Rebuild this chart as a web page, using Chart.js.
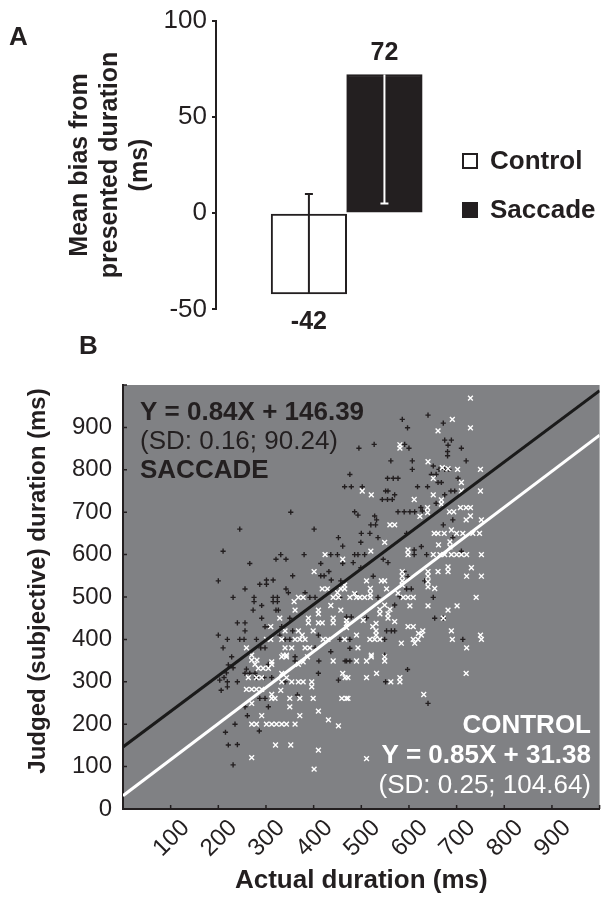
<!DOCTYPE html>
<html>
<head>
<meta charset="utf-8">
<script src="https://cdn.jsdelivr.net/npm/chart.js@4.4.1/dist/chart.umd.min.js"></script>
<style>
  html, body { margin: 0; padding: 0; background: #fff; }
  canvas { display: block; }
</style>
</head>
<body>
<canvas id="biasChart" width="605" height="330"></canvas>
<canvas id="scatterChart" width="605" height="575"></canvas>
<script>
// Panel A: mean bias from presented duration
const groups = ['Control', 'Saccade'];
const meanBias = [-42, 72];
const biasSE = [52, 67];
const biasTicks = [-50, 0, 50, 100];
const biasTickLabels = ['-50', '0', '50', '100'];

// Panel B: regression fits (saccade, control)
const fitSlopes = [0.84, 0.85];
const fitIntercepts = [146.39, 31.38];
const fitSD = [[0.16, 90.24], [0.25, 104.64]];
const durationTicks = [0, 100, 200, 300, 400, 500, 600, 700, 800, 900, 1000];
const xTickLabels = ['', '100', '200', '300', '400', '500', '600', '700', '800', '900', ''];
const yTickLabels = ['0', '100', '200', '300', '400', '500', '600', '700', '800', '900', ''];

// [actual, judged] in ms
const saccadePoints = [
  [640,929],[586,919],[597,899],[672,910],[675,870],[689,870],[682,858],[681,843],[681,833],[710,851],
  [527,860],[495,851],[591,860],[600,851],[562,821],[607,821],[607,801],[651,809],[663,801],[675,801],
  [684,801],[720,821],[476,789],[555,780],[567,780],[577,780],[647,789],[657,789],[661,770],[668,770],
  [703,780],[465,760],[479,760],[502,760],[551,750],[556,750],[544,730],[555,730],[565,730],[570,741],
  [618,760],[639,760],[688,750],[696,750],[675,741],[657,721],[625,711],[577,701],[590,701],[602,701],
  [612,701],[486,701],[493,693],[528,691],[532,682],[628,703],[692,682],[352,700],
  [245,660],[401,660],[210,608],[452,640],[461,620],[436,600],[450,600],[331,600],[321,589],[342,589],
  [380,600],[266,579],[461,579],[415,579],[432,560],[415,550],[422,550],[437,540],[356,550],[200,538],
  [301,540],[315,540],[287,530],[301,530],[256,519],[457,538],[342,519],[347,510],[382,510],[231,499],
  [275,499],[275,489],[315,499],[324,499],[315,489],[324,489],[392,499],[403,499],[455,499],[291,480],
  [273,469],[321,469],[326,469],[240,439],[256,439],[291,450],[350,450],[256,420],[298,430],[306,430],
  [333,430],[356,420],[200,410],[219,400],[245,400],[254,400],[280,400],[329,410],[340,400],[350,400],
  [410,410],[455,400],[210,380],[289,380],[298,380],[403,380],[436,371],
  [520,670],[530,670],[500,650],[518,650],[535,640],[499,629],[595,650],[672,670],[692,640],[626,619],
  [710,608],[611,611],[611,600],[637,600],[486,600],[493,600],[507,600],[546,589],[556,581],[483,581],
  [499,569],[590,560],[598,548],[525,549],[633,538],[595,519],[605,519],[581,501],[535,499],[490,505],
  [651,499],[570,481],[469,453],[479,453],[511,451],[553,420],[563,420],[570,420],[654,450],[672,450],
  [713,400],[476,400],[549,400],[476,379],[549,363],
  [228,359],[221,340],[231,333],[217,321],[212,310],[203,304],[219,300],[219,288],[240,300],[206,280],
  [259,330],[266,320],[277,320],[256,320],[305,341],[361,359],[361,349],[411,349],[466,349],[280,310],
  [296,310],[312,310],[340,300],[452,304],[410,320],[287,261],[298,261],[366,269],[305,241],[256,241],
  [261,220],[235,200],[286,184],[215,181],[221,151],[240,152],[231,104],
  [469,349],[476,349],[597,329],[551,300],[640,249]
];
const controlPoints = [
  [729,969],[729,899],[691,919],[661,892],[581,859],[581,851],[640,819],[670,805],[682,803],[702,801],
  [750,801],[651,780],[710,770],[502,750],[521,741],[651,741],[611,730],[710,750],[750,750],[668,729],
  [668,719],[639,711],[639,699],[685,701],[694,701],[708,711],[720,711],[729,711],[729,691],[623,690],
  [720,682],[752,682],
  [424,600],[461,589],[401,560],[418,519],[429,519],[450,510],[457,519],[368,499],[378,499],[359,489],
  [441,499],[452,499],[436,480],[457,469],[361,469],[410,469],[410,460],[329,450],[389,450],[389,439],
  [410,439],[418,439],[441,450],[441,439],[310,430],[340,420],[368,420],[376,410],[399,420],[301,400],
  [310,400],[333,400],[361,400],[371,400],[382,400],[420,400],[430,400],[259,380],[340,380],[354,380],
  [382,380],[392,380],[270,363],[336,363],[343,363],
  [560,670],[570,670],[549,629],[653,650],[661,650],[674,650],[662,623],[689,658],[700,650],[713,650],
  [734,650],[748,650],[686,630],[686,618],[689,600],[700,600],[710,600],[721,600],[752,600],[598,611],
  [598,600],[651,600],[665,600],[675,600],[520,608],[731,569],[752,549],[721,549],[661,560],[682,560],
  [682,571],[640,560],[640,549],[511,538],[542,538],[549,538],[640,536],[640,524],[586,560],[586,549],
  [586,538],[586,528],[553,519],[577,509],[588,499],[598,499],[609,499],[519,520],[519,508],[519,499],
  [486,508],[476,499],[490,499],[497,499],[507,499],[741,499],[654,520],[465,528],[465,519],[549,481],
  [560,471],[556,460],[556,450],[539,471],[539,460],[701,479],[682,469],[602,479],[640,479],[469,445],
  [469,437],[469,428],[504,445],[524,430],[531,438],[531,420],[531,410],[672,450],[598,430],[609,430],
  [570,442],[689,420],[691,400],[750,410],[752,400],[620,414],[629,420],[626,410],[619,400],[609,400],
  [721,380],[584,391],[612,391],[490,410],[465,400],[518,400],[528,400],[539,400],[493,380],[521,363],
  [270,351],[281,351],[277,341],[284,332],[294,332],[305,332],[312,341],[312,347],[333,359],[343,359],
  [368,341],[378,347],[387,359],[441,349],[263,310],[280,310],[291,310],[333,320],[343,310],[333,300],
  [354,300],[368,300],[378,300],[396,300],[396,288],[461,320],[466,310],[259,282],[270,282],[280,282],
  [291,282],[312,270],[312,261],[319,261],[331,280],[350,261],[371,261],[399,261],[459,261],[469,261],
  [270,249],[350,241],[291,220],[371,220],[410,231],[431,210],[452,196],[270,200],[280,200],[301,200],
  [312,200],[322,200],[333,200],[343,200],[361,200],[320,151],[352,151],[410,139],[270,121],[401,94],
  [490,349],[511,349],[521,359],[549,359],[549,349],[472,310],[511,310],[532,320],[562,300],[581,310],
  [581,300],[720,320],[472,261],[631,270],[511,119]
];

const FONT = "'Liberation Sans', Arial, Helvetica, sans-serif";
const ink = '#231f20';
const plotGray = '#808184';
const barFills = ['#ffffff', ink];

// error bars, value labels, legend and panel letter for A
const biasExtras = {
  id: 'biasExtras',
  afterDatasetsDraw(chart) {
    const { ctx, scales: { y } } = chart;
    const bars = chart.getDatasetMeta(0).data;
    ctx.save();
    bars.forEach((bar, i) => {
      const v = meanBias[i];
      const tip = v - Math.sign(v) * biasSE[i];
      const y0 = y.getPixelForValue(v);
      const y1 = y.getPixelForValue(tip);
      ctx.strokeStyle = v < 0 ? ink : '#ffffff';
      ctx.lineWidth = 2;
      ctx.beginPath();
      ctx.moveTo(bar.x, y0);
      ctx.lineTo(bar.x, y1);
      ctx.moveTo(bar.x - 4, y1);
      ctx.lineTo(bar.x + 4, y1);
      ctx.stroke();

      ctx.fillStyle = ink;
      ctx.font = `bold 25px ${FONT}`;
      ctx.textAlign = 'center';
      ctx.textBaseline = 'middle';
      ctx.fillText(String(v), bar.x, v < 0 ? y0 + 28 : y0 - 21);
    });
    ctx.restore();
  },
  afterDraw(chart) {
    const { ctx } = chart;
    ctx.save();
    groups.forEach((g, i) => {
      const cy = 161 + i * 49;
      ctx.fillStyle = barFills[i];
      ctx.fillRect(463, cy - 7, 14, 14);
      ctx.strokeStyle = ink;
      ctx.lineWidth = 2;
      ctx.strokeRect(463, cy - 7, 14, 14);
      ctx.fillStyle = ink;
      ctx.font = `bold 26px ${FONT}`;
      ctx.textAlign = 'left';
      ctx.textBaseline = 'middle';
      ctx.fillText(g, 490, cy + 1);
    });
    ctx.font = `bold 26px ${FONT}`;
    ctx.textBaseline = 'alphabetic';
    ctx.fillText('A', 9, 45);
    ctx.restore();
  }
};

new Chart(document.getElementById('biasChart'), {
  type: 'bar',
  data: {
    datasets: [{
      data: groups.map((g, i) => ({ x: i + 1, y: meanBias[i] })),
      backgroundColor: barFills,
      borderColor: ink,
      borderWidth: 2,
      borderSkipped: false,
      barPercentage: 1,
      categoryPercentage: 1
    }]
  },
  options: {
    responsive: false,
    animation: false,
    devicePixelRatio: 1,
    events: [],
    layout: { padding: { left: 60, top: 20, right: 0, bottom: 20 } },
    plugins: { legend: { display: false }, tooltip: { enabled: false } },
    scales: {
      x: {
        type: 'linear',
        min: -0.23,
        max: 4.92,
        offset: false,
        display: false,
        afterBuildTicks: s => { s.ticks = groups.map((g, i) => ({ value: i + 1 })); }
      },
      y: {
        min: -50,
        max: 100,
        afterBuildTicks: s => { s.ticks = biasTicks.map(v => ({ value: v })); },
        afterFit: s => { s.width = 156; },
        border: { display: true, color: ink, width: 2 },
        grid: { drawOnChartArea: false, drawTicks: true, tickLength: 4, color: ink, lineWidth: 2 },
        ticks: {
          color: ink,
          padding: 5,
          font: { family: FONT, size: 26 },
          callback: (v, i) => biasTickLabels[i]
        },
        title: {
          display: true,
          text: ['Mean bias from', 'presented duration', '(ms)'],
          color: ink,
          padding: { top: 5, bottom: 0 },
          font: { family: FONT, size: 25, weight: 'bold', lineHeight: 1.2 }
        }
      }
    }
  },
  plugins: [biasExtras]
});

// Panel B helpers
function fitLine(i) {
  const x0 = durationTicks[0];
  const x1 = durationTicks[durationTicks.length - 1];
  return [
    { x: x0, y: fitSlopes[i] * x0 + fitIntercepts[i] },
    { x: x1, y: fitSlopes[i] * x1 + fitIntercepts[i] }
  ];
}

function eqText(i) {
  return `Y = ${fitSlopes[i].toFixed(2)}X + ${fitIntercepts[i].toFixed(2)}`;
}

function sdText(i) {
  return `(SD: ${fitSD[i][0].toFixed(2)}; ${fitSD[i][1].toFixed(2)})`;
}

const scatterExtras = {
  id: 'scatterExtras',
  beforeDraw(chart) {
    const { ctx, chartArea: a } = chart;
    ctx.save();
    ctx.fillStyle = plotGray;
    ctx.fillRect(a.left, a.top, a.right - a.left, a.bottom - a.top);
    ctx.restore();
  },
  beforeDatasetsDraw(chart) {
    // inward tick marks
    const { ctx, chartArea: a, scales: { x, y } } = chart;
    ctx.save();
    ctx.strokeStyle = ink;
    ctx.lineWidth = 1.5;
    ctx.beginPath();
    durationTicks.forEach(v => {
      const px = x.getPixelForValue(v);
      ctx.moveTo(px, a.bottom);
      ctx.lineTo(px, a.bottom - 4);
      const py = y.getPixelForValue(v);
      ctx.moveTo(a.left, py);
      ctx.lineTo(a.left + 4, py);
    });
    ctx.stroke();
    ctx.restore();
  },
  afterDraw(chart) {
    const { ctx } = chart;
    ctx.save();
    ctx.textBaseline = 'alphabetic';

    // saccade fit, top left
    ctx.fillStyle = ink;
    ctx.textAlign = 'left';
    ctx.font = `bold 26px ${FONT}`;
    ctx.fillText(eqText(0), 140, 90);
    ctx.font = `26px ${FONT}`;
    ctx.fillText(sdText(0), 140, 119);
    ctx.font = `bold 26px ${FONT}`;
    ctx.fillText('SACCADE', 140, 148);

    // control fit, bottom right
    ctx.fillStyle = '#ffffff';
    ctx.textAlign = 'right';
    ctx.fillText('CONTROL', 591, 403);
    ctx.fillText(eqText(1), 591, 433);
    ctx.font = `26px ${FONT}`;
    ctx.fillText(sdText(1), 591, 463);

    // panel letter
    ctx.fillStyle = ink;
    ctx.textAlign = 'left';
    ctx.font = `bold 26px ${FONT}`;
    ctx.fillText('B', 79, 24);

    // y-axis title
    ctx.translate(38, 251);
    ctx.rotate(-Math.PI / 2);
    ctx.textAlign = 'center';
    ctx.textBaseline = 'middle';
    ctx.font = `bold 24px ${FONT}`;
    ctx.fillText('Judged (subjective) duration (ms)', 0, 0);
    ctx.restore();
  }
};

new Chart(document.getElementById('scatterChart'), {
  type: 'scatter',
  data: {
    datasets: [
      { type: 'line', data: fitLine(0), borderColor: '#1a1a1a', borderWidth: 3, pointRadius: 0, order: 0 },
      { type: 'line', data: fitLine(1), borderColor: '#ffffff', borderWidth: 3, pointRadius: 0, order: 0 },
      {
        label: 'Saccade',
        data: saccadePoints.map(([x, y]) => ({ x, y })),
        pointStyle: 'cross',
        pointRadius: 2.6,
        borderColor: ink,
        borderWidth: 1.4,
        order: 2
      },
      {
        label: 'Control',
        data: controlPoints.map(([x, y]) => ({ x, y })),
        pointStyle: 'crossRot',
        pointRadius: 3.4,
        borderColor: '#ffffff',
        borderWidth: 1.4,
        order: 1
      }
    ]
  },
  options: {
    responsive: false,
    animation: false,
    devicePixelRatio: 1,
    events: [],
    layout: { padding: { left: 0, top: 55, right: 5, bottom: 0 } },
    plugins: { legend: { display: false }, tooltip: { enabled: false } },
    scales: {
      x: {
        type: 'linear',
        min: 0,
        max: 1000,
        afterBuildTicks: s => { s.ticks = durationTicks.map(v => ({ value: v })); },
        afterFit: s => { s.height = 96; s.paddingLeft = 0; s.paddingRight = 0; },
        border: { display: true, color: ink, width: 2 },
        grid: { display: false, drawTicks: false },
        ticks: {
          autoSkip: false,
          minRotation: 45,
          maxRotation: 45,
          padding: 5,
          labelOffset: 15,
          color: ink,
          font: { family: FONT, size: 24 },
          callback: (v, i) => xTickLabels[i]
        },
        title: {
          display: true,
          text: 'Actual duration (ms)',
          color: ink,
          padding: { top: 0, bottom: 9 },
          font: { family: FONT, size: 26, weight: 'bold', lineHeight: 1.2 }
        }
      },
      y: {
        type: 'linear',
        min: 0,
        max: 1000,
        afterBuildTicks: s => { s.ticks = durationTicks.map(v => ({ value: v })); },
        afterFit: s => { s.width = 123; s.paddingTop = 0; s.paddingBottom = 0; },
        border: { display: true, color: ink, width: 2 },
        grid: { display: false, drawTicks: false },
        ticks: {
          padding: 11,
          color: ink,
          font: { family: FONT, size: 24 },
          callback: (v, i) => yTickLabels[i]
        }
      }
    }
  },
  plugins: [scatterExtras]
});
</script>
</body>
</html>
